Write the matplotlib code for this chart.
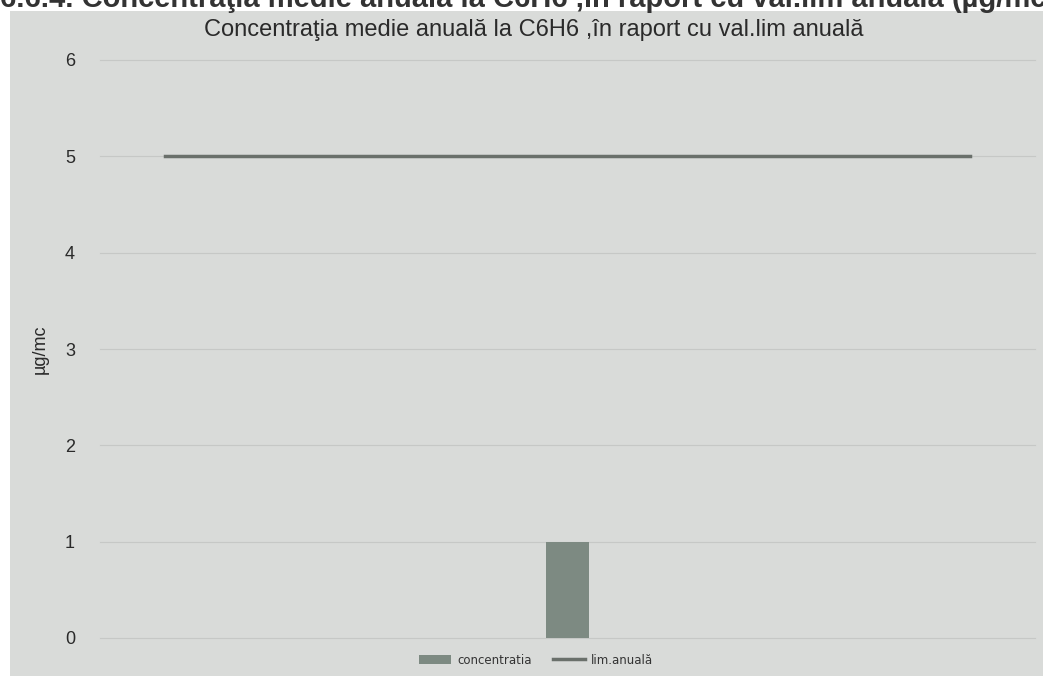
import matplotlib.pyplot as plt
from matplotlib.patches import Rectangle
import numpy as np

W, H = 1043, 676

# data
categories = ["", "", "", "", "", "", "", "", ""]
concentratia = [np.nan, np.nan, np.nan, np.nan, 1.0, np.nan, np.nan, np.nan, np.nan]
lim_anuala = [5, 5, 5, 5, 5, 5, 5, 5, 5]
yticks = [0, 1, 2, 3, 4, 5, 6]

BG = "#d9dbd9"
BAR = "#7d8a82"
LINE = "#6a706b"
TXT = "#2a2a2a"

fig = plt.figure(figsize=(W / 100, H / 100), dpi=100)
fig.patch.set_facecolor(BG)

# white page margins (left strip and top strip) behind everything
bg = fig.add_axes([0, 0, 1, 1], zorder=-10)
bg.set_axis_off()
bg.set_xlim(0, 1)
bg.set_ylim(0, 1)
bg.add_patch(Rectangle((0, 0), 10 / W, 1, facecolor="white", edgecolor="none"))
bg.add_patch(Rectangle((0, 1 - 11 / H), 1, 11 / H, facecolor="white", edgecolor="none"))

# heading from the page above, cut off by the scan
fig.text(0.0, 1 - 7 / H, "6.6.4. Concentraţia medie anuală la C6H6 ,în raport cu val.lim anuală (µg/mc)",
         ha="left", va="baseline", fontsize=21, fontweight="bold", color="#333333",
         family="Liberation Sans")

ax = fig.add_axes([100 / W, (H - 638) / H, 935 / W, 578 / H])
ax.set_facecolor("none")

x = np.arange(len(categories))
bars = ax.bar(x, concentratia, width=0.42, color=BAR, label="concentratia", zorder=3)
line, = ax.plot(x, lim_anuala, color=LINE, lw=2.5, label="lim.anuală", zorder=4)

ax.set_xlim(-0.646, 8.646)
ax.set_ylim(0, 6)
ax.set_yticks(yticks)
ax.set_xticks([])
ax.grid(axis="y", color="#c6c8c6", lw=0.8, zorder=1)
for ln in ax.get_ygridlines():
    ln.set_clip_on(False)
for s in ax.spines.values():
    s.set_visible(False)
ax.tick_params(axis="y", length=0, pad=18, labelsize=13, labelcolor=TXT)
for t in ax.get_yticklabels():
    t.set_family("Liberation Sans")
ax.set_ylabel("µg/mc", fontsize=13, color=TXT, family="Liberation Sans")
ax.yaxis.set_label_coords(-0.055, 0.5)

fig.text(534 / W, 1 - 30 / H, "Concentraţia medie anuală la C6H6 ,în raport cu val.lim anuală",
         ha="center", va="center", fontsize=17, color=TXT, family="Liberation Sans")

fig.legend([bars, line], ["concentratia", "lim.anuală"], loc="center",
           bbox_to_anchor=(536 / W, 1 - 660 / H), ncol=2,
           frameon=False, fontsize=8.5, handlelength=2.7, columnspacing=1.8,
           handletextpad=0.5, labelcolor="#333333")

fig.savefig("out.png", dpi=100, facecolor=fig.get_facecolor())
